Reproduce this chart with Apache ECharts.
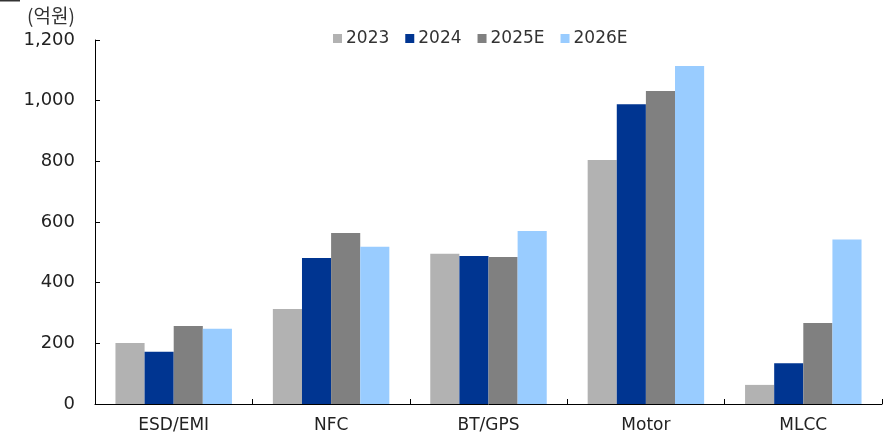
<!DOCTYPE html>
<html><head><meta charset="utf-8">
<script src="https://cdn.jsdelivr.net/npm/echarts@6/dist/echarts.min.js"></script>
<style>html,body{margin:0;padding:0;background:#fff}#c{width:884px;height:434px}</style>
</head><body><div id="c"></div>
<script>
const categories = ['ESD/EMI','NFC','BT/GPS','Motor','MLCC'];
const seriesNames = ['2023','2024','2025E','2026E'];
const v2023 = [201, 313, 495, 804, 63];
const v2024 = [172, 481, 488, 988, 134];
const v2025E = [257, 564, 485, 1032, 267];
const v2026E = [248, 518, 570, 1114, 542];
const colors = ['#B2B2B2','#003591','#808080','#99CCFF'];
const yTicks = [0,200,400,600,800,1000,1200];
const unitLabel = '(억원)';

const font = "'DejaVu Sans','Noto Sans CJK KR',sans-serif";
const chart = echarts.init(document.getElementById('c'));
const data = [v2023, v2024, v2025E, v2026E];
chart.setOption({
  animation:false,
  color: colors,
  grid:{left:95,right:2,top:40,bottom:30,containLabel:false},
  legend:{
    data: seriesNames, top:25, left:328, itemWidth:9, itemHeight:9, itemGap:16,
    icon:'rect',
    textStyle:{fontSize:17,color:'#333',fontFamily:font,padding:[0,0,0,-1]}
  },
  graphic:[
    {type:'text', left:27, top:6, style:{text:unitLabel, fill:'#333', font:"19px 'Noto Sans CJK KR',sans-serif"}},
    {type:'line', shape:{x1:0,y1:0.5,x2:20,y2:0.5}, style:{stroke:'#333',lineWidth:2}}
  ],
  xAxis:{
    type:'category', data:categories,
    axisLine:{lineStyle:{color:'#000',width:1}},
    axisTick:{show:true,inside:true,length:5,lineStyle:{color:'#000'}},
    axisLabel:{fontSize:17,color:'#222',margin:13,fontFamily:font}
  },
  yAxis:{
    type:'value', min:yTicks[0], max:yTicks[yTicks.length-1], interval:200,
    axisLine:{show:true,lineStyle:{color:'#000'}},
    axisTick:{show:true,inside:true,length:5,lineStyle:{color:'#000'}},
    splitLine:{show:false},
    axisLabel:{fontSize:18,color:'#222',margin:20,fontFamily:font,
      formatter:v=>v.toLocaleString('en-US')}
  },
  series: seriesNames.map((n,i)=>({
    name:n, type:'bar', data:data[i], barGap:'0%', barCategoryGap:'26%',
    itemStyle:{color:colors[i]}
  }))
});
</script></body></html>
